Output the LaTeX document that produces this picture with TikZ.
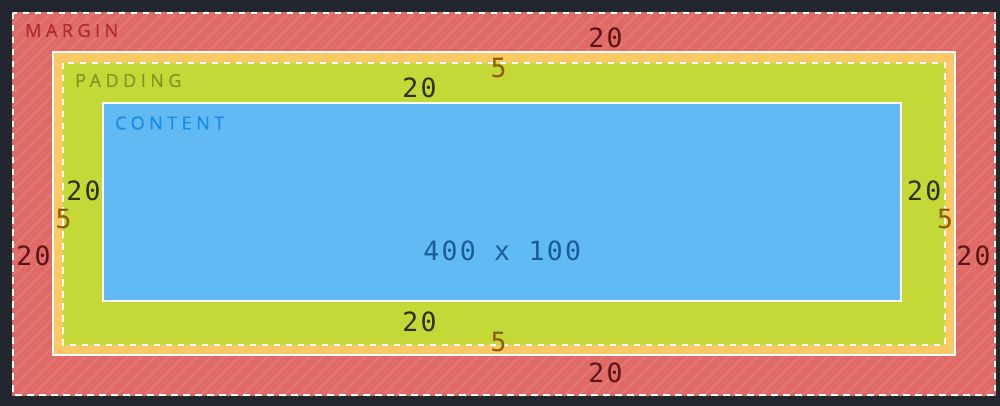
\documentclass[tikz,border=0pt]{standalone}
\usepackage{fontspec}
\setmonofont[LetterSpace=9]{DejaVu Sans Mono}
\newfontfamily\lblfont[LetterSpace=25,FakeBold=0.6]{Open Sans}
\definecolor{bgdark}{HTML}{22262E}
\definecolor{marginred}{HTML}{E06A66}
\definecolor{borderorange}{HTML}{F9C966}
\definecolor{padgreen}{HTML}{C4D937}
\definecolor{contblue}{HTML}{62BAF5}
\definecolor{marginlbl}{HTML}{B02C2A}
\definecolor{padlbl}{HTML}{859620}
\definecolor{contlbl}{HTML}{1A8CDE}
\definecolor{marginnum}{HTML}{5C1414}
\definecolor{bordernum}{HTML}{8C5C00}
\definecolor{padnum}{HTML}{2B3300}
\definecolor{contnum}{HTML}{175E94}
\tikzset{
  dashline/.style={draw=white, line width=2pt, dash pattern=on 6.5pt off 5.5pt},
  solidline/.style={draw=white, line width=2pt},
  lbl/.style={inner sep=0pt, anchor=west, font=\lblfont\fontsize{18}{18}\selectfont},
  num/.style={inner sep=0pt, font=\ttfamily\fontsize{26.5}{26.5}\selectfont},
}
\begin{document}
\begin{tikzpicture}[x=1pt,y=-1pt]
\fill[bgdark] (0,0) rectangle (1000,406);
\useasboundingbox (0,0) rectangle (1000,406);
% margin
\fill[marginred] (12,12) rectangle (996,396);
\begin{scope}
  \clip (12,12) rectangle (996,396);
  \foreach \a in {-420,-406,...,1000}
    \draw[white, opacity=0.13, line width=1.2pt] (\a,400) -- (\a+400,0);
\end{scope}
\draw[dashline] (13,13) rectangle (995,395);
% border
\fill[borderorange] (52.5,52.5) rectangle (955,354.5);
\draw[solidline] (52.5,52.5) rectangle (955,354.5);
% padding
\fill[padgreen] (63,63) rectangle (945,344.5);
\draw[dashline] (63,63) rectangle (945,344.5);
% content
\fill[contblue] (103,103) rectangle (901,300.5);
\draw[solidline] (103,103) rectangle (901,300.5);
% labels
\node[lbl, text=marginlbl] (lmargin) at (25,30.5) {MARGIN};
\node[lbl, text=padlbl] (lpadding) at (75,80.5) {PADDING};
\node[lbl, text=contlbl] (lcontent) at (115,123) {CONTENT};
% margin numbers
\node[num, text=marginnum] (mt) at (605.5,38) {20};
\node[num, text=marginnum] (mb) at (605.5,372.7) {20};
\node[num, text=marginnum] (ml) at (33.5,256) {20};
\node[num, text=marginnum] (mr) at (973.5,256) {20};
% border numbers
\node[num, text=bordernum] (bt) at (498.5,68.5) {5};
\node[num, text=bordernum] (bb) at (498.5,342.5) {5};
\node[num, text=bordernum] (bl) at (63.5,219) {5};
\node[num, text=bordernum] (br) at (945.2,219) {5};
% padding numbers
\node[num, text=padnum] (pt) at (419.5,88.3) {20};
\node[num, text=padnum] (pb) at (419.5,322) {20};
\node[num, text=padnum] (pl) at (83.5,191) {20};
\node[num, text=padnum] (pr) at (924.2,191) {20};
% content size
\node[num, text=contnum] (csize) at (502.2,250.7) {400 x 100};
\end{tikzpicture}
\end{document}
